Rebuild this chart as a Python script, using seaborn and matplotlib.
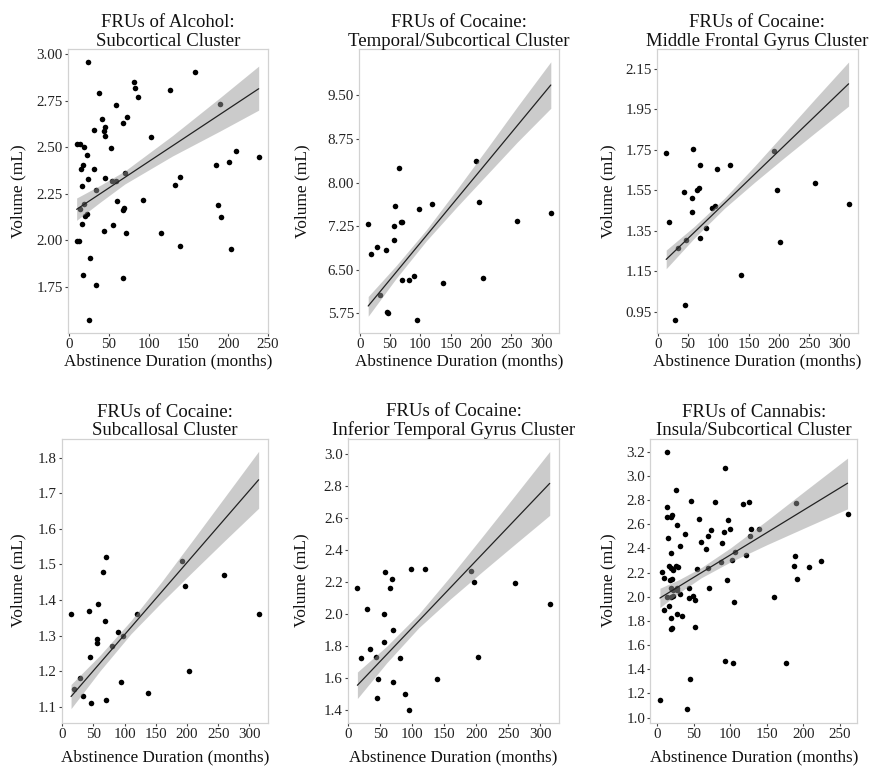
import numpy as np
import pandas as pd
import matplotlib
matplotlib.use("Agg")
import matplotlib.pyplot as plt
from matplotlib.ticker import FormatStrFormatter
import seaborn as sns

# ---------------- data ----------------
titles = [
    "FRUs of Alcohol:\nSubcortical Cluster",
    "FRUs of Cocaine:\nTemporal/Subcortical Cluster",
    "FRUs of Cocaine:\nMiddle Frontal Gyrus Cluster",
    "FRUs of Cocaine:\nSubcallosal Cluster",
    "FRUs of Cocaine:\nInferior Temporal Gyrus Cluster",
    "FRUs of Cannabis:\nInsula/Subcortical Cluster",
]
x_label = "Abstinence Duration (months)"
y_label = "Volume (mL)"

# Alcohol panel
alc_x = [24.2, 158, 81.5, 82.4, 37.2, 126.7, 86.1, 190.2, 58.5, 41, 72.7, 68.1, 31.8,
         44.7, 44.3, 45.6, 103.3, 52.3, 9.6, 13.8, 19.2, 22.2, 184.4, 209.4, 201.1,
         238.3, 17.6, 15, 31.4, 70.2, 53.5, 58.5, 45.2, 24.2, 16.3, 34.3, 133.4, 139.2,
         93.2, 59.8, 18.8, 13.8, 187.3, 191.5, 69.4, 67.3, 20.5, 23, 16.7, 55.2, 43.9,
         71.1, 115.8, 9.6, 12.5, 140, 203.6, 26.8, 17.6, 33.4, 67.7, 25.5]
alc_y = [2.96, 2.907, 2.849, 2.819, 2.794, 2.808, 2.769, 2.731, 2.726, 2.654, 2.661, 2.629,
         2.595, 2.609, 2.589, 2.562, 2.553, 2.498, 2.518, 2.518, 2.503, 2.46, 2.406, 2.478,
         2.423, 2.446, 2.405, 2.381, 2.383, 2.363, 2.317, 2.317, 2.335, 2.327, 2.29, 2.27,
         2.299, 2.338, 2.218, 2.211, 2.193, 2.17, 2.191, 2.125, 2.175, 2.161, 2.13, 2.141,
         2.089, 2.084, 2.05, 2.041, 2.041, 1.997, 1.994, 1.971, 1.955, 1.906, 1.811, 1.757,
         1.795, 1.572]

# Cocaine panels (shared abstinence durations)
coc_x = [14, 19, 28.5, 33, 43, 44.5, 46.5, 56, 56, 58, 64.5, 68, 70, 70.5, 80.5, 89, 94,
         98, 119.5, 138, 192, 196.5, 202.5, 260, 315]
temp_y = [7.29, 6.77, 6.89, 6.07, 6.84, 5.78, 5.75, 7.02, 7.25, 7.59, 8.26, 7.32, 6.32,
          7.32, 6.32, 6.39, 5.64, 7.55, 7.64, 6.27, 8.38, 7.66, 6.36, 7.34, 7.48]
mfg_y = [1.735, 1.394, 0.912, 1.263, 1.544, 0.982, 1.303, 1.514, 1.443, 1.754, 1.554,
         1.562, 1.675, 1.313, 1.364, 1.463, 1.473, 1.653, 1.675, 1.132, 1.745, 1.554,
         1.293, 1.584, 1.485]
subc_y = [1.36, 1.15, 1.18, 1.13, 1.37, 1.24, 1.11, 1.29, 1.28, 1.39, 1.48, 1.34, 1.52,
          1.12, 1.27, 1.31, 1.17, 1.30, 1.36, 1.14, 1.51, 1.44, 1.20, 1.47, 1.36]
itg_y = [2.16, 1.72, 2.03, 1.78, 1.73, 1.47, 1.59, 2.00, 1.82, 2.26, 2.16, 2.22, 1.90,
         1.57, 1.72, 1.50, 1.40, 2.28, 2.28, 1.59, 2.27, 2.20, 1.73, 2.19, 2.06]

# Cannabis panel
can_x = [13.6, 93.2, 25.5, 45.5, 12.7, 79.1, 117.3, 125.5, 190, 13.6, 18.2, 20.5, 57.3,
         97.3, 260.5, 26.4, 15, 37.7, 73.2, 90.9, 99.1, 128.2, 139.1, 127.3, 59.5, 69.5,
         88.2, 30.9, 67.3, 106.8, 120.9, 18.2, 101.8, 86.8, 15.9, 18.2, 21.8, 27.7, 25.5,
         6.8, 55, 69.5, 9.5, 17.3, 19.5, 95.9, 186.8, 188.6, 190.9, 207.3, 224.5, 70.5,
         19.1, 27.3, 21.8, 26.4, 43.2, 13.6, 18.6, 20.9, 30.9, 43.6, 49.1, 51.8, 105,
         160, 9.1, 16.4, 27.3, 33.6, 18.2, 18.2, 20.5, 52.3, 93.2, 103.2, 176.4, 45,
         3.6, 40]
can_y = [3.2, 3.062, 2.883, 2.792, 2.745, 2.781, 2.764, 2.781, 2.773, 2.657, 2.662, 2.676,
         2.643, 2.635, 2.684, 2.593, 2.483, 2.516, 2.552, 2.533, 2.56, 2.563, 2.563, 2.505,
         2.456, 2.505, 2.445, 2.417, 2.392, 2.373, 2.345, 2.359, 2.304, 2.287, 2.254, 2.235,
         2.221, 2.249, 2.257, 2.207, 2.227, 2.235, 2.152, 2.139, 2.144, 2.136, 2.254, 2.337,
         2.144, 2.243, 2.296, 2.075, 2.07, 2.07, 2.056, 2.056, 2.072, 2.001, 2.001, 2.006,
         2.023, 1.992, 2.009, 1.976, 1.957, 1.995, 1.89, 1.923, 1.855, 1.844, 1.824, 1.73,
         1.739, 1.747, 1.466, 1.455, 1.449, 1.317, 1.146, 1.069]

# Fitted lines (end points) and confidence bands
alc_line_x = [9.6, 238.3]
alc_line_y = [2.166, 2.815]
alc_band_x = [9.6, 40, 70, 130, 190, 238.3]
alc_band_lo = [2.107, 2.207, 2.302, 2.453, 2.588, 2.700]
alc_band_hi = [2.227, 2.297, 2.372, 2.563, 2.768, 2.937]

coc_line_x = [14, 315]
coc_band_x = [14, 60, 110, 160, 210, 260, 315]
temp_line_y = [5.876, 9.68]
temp_band_lo = [5.70, 6.35, 7.00, 7.58, 8.14, 8.70, 9.28]
temp_band_hi = [6.04, 6.57, 7.19, 7.88, 8.59, 9.31, 10.08]
mfg_line_y = [1.209, 2.076]
mfg_band_lo = [1.163, 1.313, 1.461, 1.590, 1.714, 1.835, 1.966]
mfg_band_hi = [1.255, 1.371, 1.511, 1.670, 1.836, 2.003, 2.184]
subc_line_y = [1.129, 1.738]
subc_band_lo = [1.095, 1.200, 1.305, 1.395, 1.481, 1.566, 1.658]
subc_band_hi = [1.163, 1.244, 1.342, 1.453, 1.570, 1.688, 1.818]
itg_line_y = [1.552, 2.816]
itg_band_lo = [1.469, 1.693, 1.912, 2.094, 2.265, 2.433, 2.616]
itg_band_hi = [1.635, 1.797, 1.998, 2.236, 2.485, 2.737, 3.016]

can_line_x = [3.6, 260.5]
can_line_y = [1.99, 2.94]
can_band_x = [3.6, 30, 60, 100, 150, 200, 260.5]
can_band_lo = [1.911, 2.033, 2.157, 2.288, 2.431, 2.566, 2.728]
can_band_hi = [2.071, 2.143, 2.241, 2.404, 2.631, 2.866, 3.148]

# tick values
yticks_list = [
    [1.75, 2.00, 2.25, 2.50, 2.75, 3.00],
    [5.75, 6.50, 7.25, 8.00, 8.75, 9.50],
    [0.95, 1.15, 1.35, 1.55, 1.75, 1.95, 2.15],
    [1.1, 1.2, 1.3, 1.4, 1.5, 1.6, 1.7, 1.8],
    [1.4, 1.6, 1.8, 2.0, 2.2, 2.4, 2.6, 2.8, 3.0],
    [1.0, 1.2, 1.4, 1.6, 1.8, 2.0, 2.2, 2.4, 2.6, 2.8, 3.0, 3.2],
]
xticks_list = [
    [0, 50, 100, 150, 200, 250],
    [0, 50, 100, 150, 200, 250, 300],
    [0, 50, 100, 150, 200, 250, 300],
    [0, 50, 100, 150, 200, 250, 300],
    [0, 50, 100, 150, 200, 250, 300],
    [0, 50, 100, 150, 200, 250],
]

# ---------------- styling / layout ----------------
sns.set_theme(style="white")
plt.rcParams["font.family"] = ["Liberation Serif", "DejaVu Serif"]

W, H = 870, 770
fig = plt.figure(figsize=(8.7, 7.7), dpi=100)
fig.patch.set_facecolor("white")

# axes boxes in pixels: left, right, top, bottom
boxes = [
    (67.8, 268.0, 49.0, 332.5),
    (359.1, 559.3, 49.0, 332.5),
    (657.1, 857.7, 49.0, 332.5),
    (61.7, 268.0, 438.5, 722.5),
    (347.8, 559.3, 438.5, 722.5),
    (650.5, 857.0, 438.5, 722.5),
]
xlims = [(-1.5, 249.7), (-1, 329), (-1, 330), (-1, 330), (-1, 330), (-9.3, 273.4)]
ylims = [(1.503, 3.029), (5.42, 10.30), (0.848, 2.248), (1.056, 1.854),
         (1.319, 3.097), (0.96, 3.31)]
ylab_center_px = [18, 302, 608, 18, 301, 608]
xlab_top_px = [353, 353, 353, 749, 749, 749]
yfmt = ["%.2f", "%.2f", "%.2f", "%.1f", "%.1f", "%.1f"]

panels = [
    (alc_x, alc_y, alc_line_x, alc_line_y, alc_band_x, alc_band_lo, alc_band_hi),
    (coc_x, temp_y, coc_line_x, temp_line_y, coc_band_x, temp_band_lo, temp_band_hi),
    (coc_x, mfg_y, coc_line_x, mfg_line_y, coc_band_x, mfg_band_lo, mfg_band_hi),
    (coc_x, subc_y, coc_line_x, subc_line_y, coc_band_x, subc_band_lo, subc_band_hi),
    (coc_x, itg_y, coc_line_x, itg_line_y, coc_band_x, itg_band_lo, itg_band_hi),
    (can_x, can_y, can_line_x, can_line_y, can_band_x, can_band_lo, can_band_hi),
]

for i, (px, py, lx, ly, bx, blo, bhi) in enumerate(panels):
    L, R, T, B = boxes[i]
    ax = fig.add_axes([L / W, 1 - B / H, (R - L) / W, (B - T) / H])
    ax.set_facecolor("white")

    pts = pd.DataFrame({"x": px, "y": py})
    sns.scatterplot(data=pts, x="x", y="y", ax=ax, color="black", s=16,
                    linewidth=0, zorder=2)
    ax.fill_between(bx, blo, bhi, color="#999999", alpha=0.5, linewidth=0, zorder=3)
    fit = pd.DataFrame({"x": lx, "y": ly})
    sns.lineplot(data=fit, x="x", y="y", ax=ax, color="#222222", linewidth=0.9,
                 zorder=4)

    ax.set_xlim(*xlims[i])
    ax.set_ylim(*ylims[i])
    ax.set_xticks(xticks_list[i])
    ax.set_yticks(yticks_list[i])
    ax.yaxis.set_major_formatter(FormatStrFormatter(yfmt[i]))
    ax.tick_params(axis="both", which="major", labelsize=10.8, length=2.5, width=0.8,
                   color="#444444", labelcolor="#222222", pad=1.2,
                   left=True, bottom=True)
    for sp in ax.spines.values():
        sp.set_color("#d2d2d2")
        sp.set_linewidth(0.9)

    ax.set_title(titles[i], fontsize=13.5, color="#111111", pad=2.5, linespacing=1.08)
    ax.set_xlabel(x_label, fontsize=12.3, color="#111111")
    ax.set_ylabel(y_label, fontsize=12.5, color="#111111")
    ax.yaxis.set_label_coords((ylab_center_px[i] + 8 - L) / (R - L), 0.5)
    ax.xaxis.set_label_coords(0.5, -(xlab_top_px[i] - B) / (B - T))

fig.savefig("out.png", dpi=100, facecolor="white")
